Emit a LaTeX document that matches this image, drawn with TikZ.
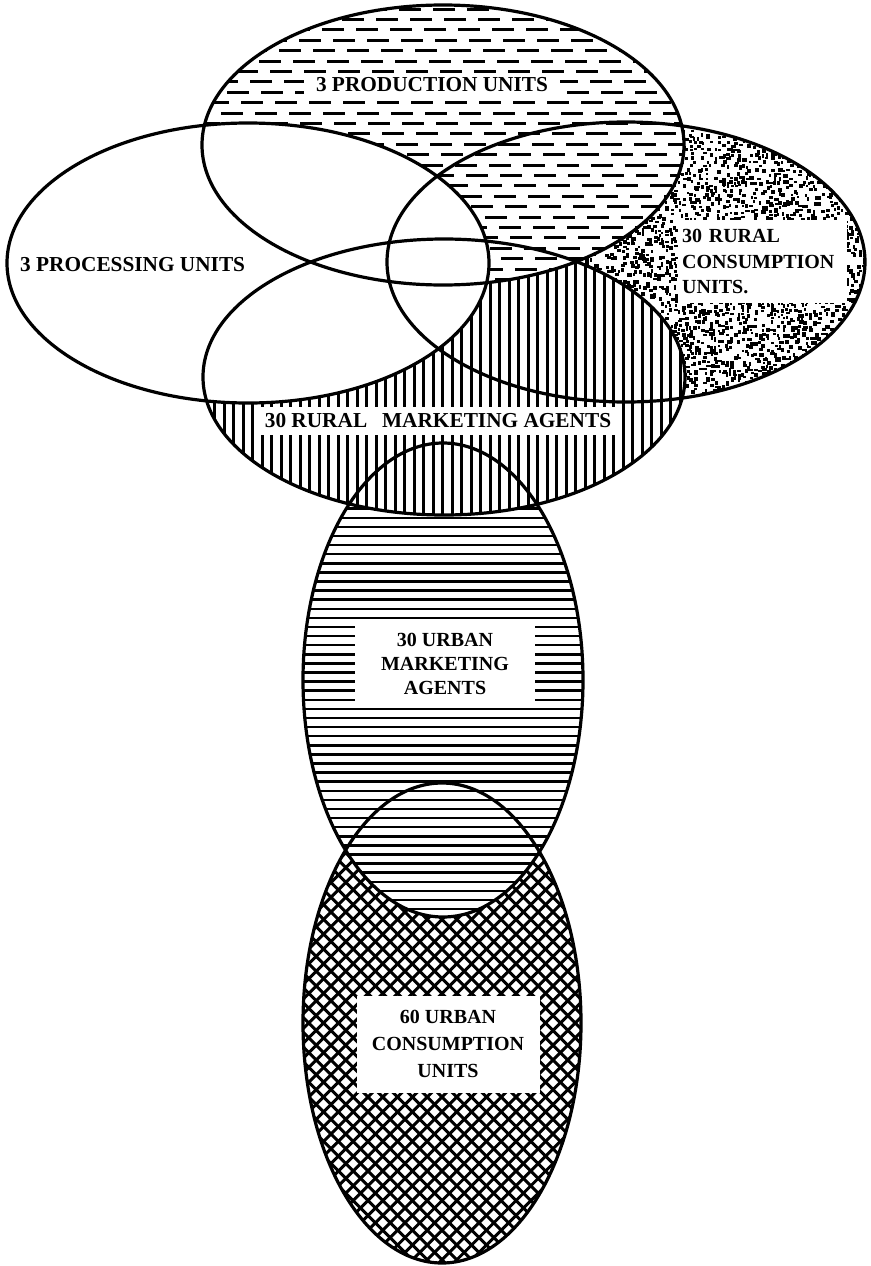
\documentclass[tikz,border=0pt]{standalone}
\usepackage{fontspec}
\setmainfont{Liberation Serif}
\begin{document}
\begin{tikzpicture}[x=1pt,y=-1pt,
  outline/.style={line width=3.2pt},
  lab/.style={fill=white, font=\bfseries\fontsize{20}{24}\selectfont, align=center, inner sep=0pt},
  biglab/.style={lab, font=\bfseries\fontsize{21.3}{25}\selectfont},
  xhatch/.style={line width=3pt},
  hline/.style={line width=2.5pt},
  vline/.style={line width=3pt},
  dline/.style={line width=3pt, dash pattern=on 22pt off 12pt},
]
\def\Eproc{(248,263) ellipse [x radius=241pt, y radius=140pt]}
\def\Eprod{(443,145) ellipse [x radius=241pt, y radius=140pt]}
\def\Ercons{(626,262) ellipse [x radius=239pt, y radius=140pt]}
\def\Ermark{(444,377) ellipse [x radius=241pt, y radius=138pt]}
\def\Eumark{(443,680) ellipse [x radius=140pt, y radius=237pt]}
\def\Eucons{(442,1023) ellipse [x radius=139pt, y radius=240pt]}

\useasboundingbox (0,0) rectangle (870,1266);
\fill[white] (0,0) rectangle (870,1266);

% urban consumption: cross hatch
\begin{scope}
  \clip \Eucons;
  \fill[white] (300,780) rectangle (585,1266);
  \foreach \c in {-27,...,27} {
    \draw[xhatch] ({442+\c*14.8-300},723) -- ++(600,600);
    \draw[xhatch] ({442+\c*14.8+300},723) -- ++(-600,600);
  }
\end{scope}

% urban marketing: horizontal lines
\begin{scope}
  \clip \Eumark;
  \fill[white] (300,440) rectangle (590,920);
  \foreach \i in {0,...,52} \draw[hline] (300,{445+\i*9.1}) -- (590,{445+\i*9.1});
\end{scope}

% rural consumption: stipple
\begin{scope}
  \clip \Ercons;
  \fill[white] (385,120) rectangle (866,404);
  \pgfmathsetseed{11}
  \foreach \xi in {0,...,77} {
    \foreach \yi in {0,...,72} {
      \pgfmathsetmacro\rr{rnd}
      \ifdim\rr pt<0.56pt
        \fill ({558+\xi*4+1.5*rand},{117+\yi*4+1.5*rand}) rectangle ++({2+2.5*rnd},{2+2.5*rnd});
      \fi
    }
  }
\end{scope}

% rural marketing: vertical lines
\begin{scope}
  \clip \Ermark;
  \fill[white] (200,236) rectangle (690,520);
  \foreach \i in {0,...,52} \draw[vline] ({205+\i*9.5},235) -- ({205+\i*9.5},520);
\end{scope}

% production: dashes
\begin{scope}
  \clip \Eprod;
  \fill[white] (200,3) rectangle (690,290);
  \foreach \i in {0,...,27} {
    \pgfmathsetmacro\ph{mod(\i*23,37)}
    \draw[dline, dash phase=\ph pt] (195,{9+\i*10.4}) -- (700,{9+\i*10.4});
  }
\end{scope}

% processing: white
\fill[white] \Eproc;

% outlines
\draw[outline] \Eucons;
\draw[outline] \Eumark;
\draw[outline] \Ercons;
\draw[outline] \Ermark;
\draw[outline] \Eprod;
\draw[outline] \Eproc;

% labels
\node[biglab, fill=none, anchor=west] (proc) at (20,265) {3 PROCESSING UNITS};
\node[biglab, inner xsep=12pt, inner ysep=5pt] (prod) at (432,85) {3 PRODUCTION UNITS};
\node[lab, text width=161pt, align=left, inner xsep=4pt, inner ysep=9pt, anchor=north west,
      font=\bfseries\fontsize{20}{25.5}\selectfont] (rcons) at (678,220) {30 RURAL\\CONSUMPTION\\UNITS.};
\node[biglab, inner xsep=9pt, inner ysep=7pt] (rmark) at (438,421) {30 RURAL\hspace{0.7em}MARKETING AGENTS};
\node[lab, minimum width=180pt, minimum height=80pt] (umark) at (445,664) {30 URBAN\\MARKETING\\AGENTS};
\node[lab, minimum width=183pt, minimum height=97pt,
      font=\bfseries\fontsize{20}{27}\selectfont] (ucons) at (448,1044) {60 URBAN\\CONSUMPTION\\UNITS};
\end{tikzpicture}
\end{document}
